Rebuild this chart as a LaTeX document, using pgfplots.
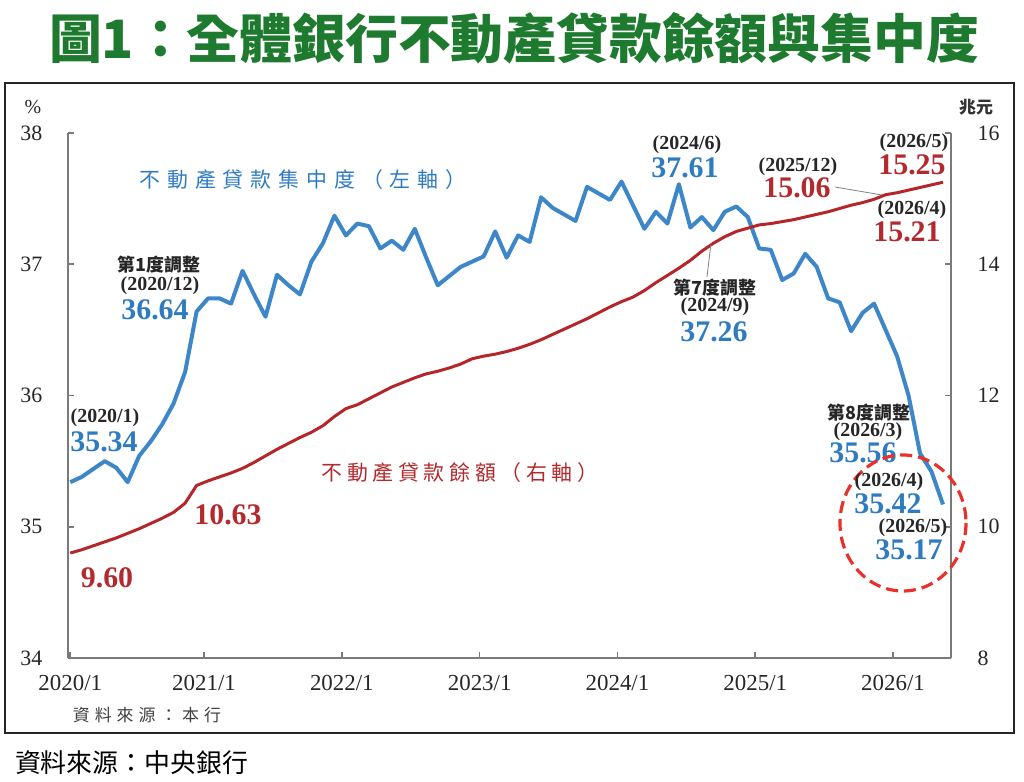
\documentclass[border=0pt]{standalone}
\usepackage{fontspec}
\setmainfont{Liberation Serif}
\newfontfamily\cjk{Noto Sans CJK TC}
\newfontfamily\cjkblue[LetterSpace=33]{Noto Sans CJK TC}
\newfontfamily\cjkred[LetterSpace=22]{Noto Sans CJK TC}
\newfontfamily\cjksrc[LetterSpace=29]{Noto Sans CJK TC}
\usepackage{pgfplots}
\pgfplotsset{compat=1.18}
\usepackage{pgfplotstable}

\definecolor{tgreen}{HTML}{1E7A2E}
\definecolor{lblue}{HTML}{3D87C9}
\definecolor{tblue}{HTML}{2F7BC0}
\definecolor{lred}{HTML}{B5262B}
\definecolor{tred}{HTML}{B22A2E}
\definecolor{cred}{HTML}{E8312A}
\definecolor{axgray}{HTML}{7A7A7A}

\pgfplotstableread{
i v
0 35.34
1 35.38
2 35.44
3 35.50
4 35.45
5 35.34
6 35.54
7 35.65
8 35.78
9 35.94
10 36.18
11 36.64
12 36.74
13 36.74
14 36.70
15 36.95
16 36.77
17 36.60
18 36.92
19 36.84
20 36.77
21 37.02
22 37.16
23 37.37
24 37.22
25 37.31
26 37.29
27 37.12
28 37.18
29 37.11
30 37.27
31 37.05
32 36.84
33 36.91
34 36.98
35 37.02
36 37.06
37 37.25
38 37.05
39 37.22
40 37.17
41 37.51
42 37.43
43 37.38
44 37.33
45 37.59
46 37.54
47 37.49
48 37.63
49 37.45
50 37.27
51 37.40
52 37.31
53 37.61
54 37.28
55 37.36
56 37.26
57 37.40
58 37.44
59 37.36
60 37.12
61 37.11
62 36.88
63 36.93
64 37.08
65 36.98
66 36.74
67 36.71
68 36.49
69 36.63
70 36.70
71 36.50
72 36.30
73 36.00
74 35.56
75 35.42
76 35.17
}\conc

\pgfplotstableread{
i v
0 9.60
1 9.65
2 9.71
3 9.77
4 9.83
5 9.90
6 9.97
7 10.05
8 10.13
9 10.22
10 10.36
11 10.63
12 10.70
13 10.76
14 10.82
15 10.89
16 10.98
17 11.08
18 11.18
19 11.27
20 11.36
21 11.44
22 11.54
23 11.68
24 11.80
25 11.86
26 11.95
27 12.04
28 12.13
29 12.20
30 12.27
31 12.33
32 12.37
33 12.42
34 12.48
35 12.56
36 12.60
37 12.63
38 12.67
39 12.72
40 12.78
41 12.85
42 12.93
43 13.01
44 13.09
45 13.17
46 13.26
47 13.35
48 13.43
49 13.50
50 13.60
51 13.72
52 13.83
53 13.94
54 14.06
55 14.20
56 14.32
57 14.42
58 14.50
59 14.55
60 14.60
61 14.62
62 14.65
63 14.68
64 14.72
65 14.76
66 14.80
67 14.85
68 14.90
69 14.94
70 14.99
71 15.06
72 15.09
73 15.13
74 15.17
75 15.21
76 15.25
}\bal

\pgfplotsset{
  common/.style={
    at={(34bp,-329bp)}, anchor=south west,
    scale only axis, width=441.5bp, height=262.5bp,
    xmin=-0.2, xmax=76.7,
    tick align=inside, major tick length=3bp,
    axis line style={-, draw=axgray, line width=0.8bp},
    every tick/.style={draw=axgray, line width=0.8bp},
    tick label style={font=\fontsize{11}{11}\selectfont, text=black!85},
    /pgf/number format/assume math mode=true,
    clip=false,
  }
}

\begin{document}
\begin{tikzpicture}
\begin{axis}[common,
  axis x line*=bottom, axis y line*=left,
  ymin=34, ymax=38, ytick={34,35,36,37,38},
  xtick={0,11.65,23.65,35.65,47.65,59.65,71.65},
  xticklabels={2020/1,2021/1,2022/1,2023/1,2024/1,2025/1,2026/1},
  xticklabel style={font=\fontsize{11.5}{11.5}\selectfont, yshift=-5bp},
  yticklabel style={xshift=-9.3bp},
]
\addplot[lblue, line width=2bp, line join=round, mark=none] table[x=i,y=v]{\conc};
\end{axis}
\begin{axis}[common,
  axis x line=none, axis y line*=right,
  ymin=8, ymax=16, ytick={8,10,12,14,16},
  yticklabel style={xshift=9.8bp},
]
\addplot[lred, line width=1.5bp, line join=round, mark=none] table[x=i,y=v]{\bal};
\end{axis}

\begin{scope}[x=0.5bp,y=-0.5bp]
\path[use as bounding box] (0,0) rectangle (1024,782);
\draw[line width=1bp, draw=black!85] (5,83) rectangle (1014,733);
\node[font=\cjk\bfseries\fontsize{26.5}{26.5}\selectfont, text=tgreen] at (514,38) {圖1：全體銀行不動產貸款餘額與集中度};

\node[font=\fontsize{10}{10}\selectfont, text=black!85] at (33,107) {\%};
\node[font=\cjk\bfseries\fontsize{8.5}{8.5}\selectfont, text=black!80] at (976,107) {兆元};

\node[font=\cjkblue\fontsize{10.5}{10.5}\selectfont, text=tblue] at (303,180) {不動產貸款集中度（左軸）};
\node[font=\cjkred\fontsize{10.5}{10.5}\selectfont, text=tred] at (460,473) {不動產貸款餘額（右軸）};

% 2020/1
\node[font=\bfseries\fontsize{10}{10}\selectfont, text=black!85] at (105,418) {(2020/1)};
\node[font=\bfseries\fontsize{15}{15}\selectfont, text=tblue] at (104,442) {35.34};
\node[font=\bfseries\fontsize{15}{15}\selectfont, text=tred] at (107,578) {9.60};
% 2020/12
\node[font=\cjk\bfseries\fontsize{9}{9}\selectfont, text=black!85] at (159,265) {第1度調整};
\node[font=\bfseries\fontsize{10}{10}\selectfont, text=black!85] at (160,286) {(2020/12)};
\node[font=\bfseries\fontsize{15}{15}\selectfont, text=tblue] at (155,310) {36.64};
\node[font=\bfseries\fontsize{15}{15}\selectfont, text=tred] at (228,515) {10.63};
% 2024/6
\node[font=\bfseries\fontsize{10}{10}\selectfont, text=black!85] at (687,145) {(2024/6)};
\node[font=\bfseries\fontsize{15}{15}\selectfont, text=tblue] at (685,168) {37.61};
% 2024/9
\draw[gray, line width=0.4bp] (707,277) -- (711,243);
\node[font=\cjk\bfseries\fontsize{9}{9}\selectfont, text=black!85] at (715,288) {第7度調整};
\node[font=\bfseries\fontsize{10}{10}\selectfont, text=black!85] at (715,307) {(2024/9)};
\node[font=\bfseries\fontsize{15}{15}\selectfont, text=tblue] at (714,332) {37.26};
% 2025/12
\draw[gray, line width=0.4bp] (835,187) -- (882,195);
\node[font=\bfseries\fontsize{10}{10}\selectfont, text=black!85] at (798,167) {(2025/12)};
\node[font=\bfseries\fontsize{15}{15}\selectfont, text=tred] at (797,188) {15.06};
% 2026/5 red
\node[font=\bfseries\fontsize{10}{10}\selectfont, text=black!85] at (914,143) {(2026/5)};
\node[font=\bfseries\fontsize{15}{15}\selectfont, text=tred] at (912,165) {15.25};
% 2026/4 red
\node[font=\bfseries\fontsize{10}{10}\selectfont, text=black!85] at (912,210) {(2026/4)};
\node[font=\bfseries\fontsize{15}{15}\selectfont, text=tred] at (907,232) {15.21};
% 2026/3 blue
\node[font=\cjk\bfseries\fontsize{9}{9}\selectfont, text=black!85] at (869,413) {第8度調整};
\node[font=\bfseries\fontsize{10}{10}\selectfont, text=black!85] at (868,432) {(2026/3)};
\node[font=\bfseries\fontsize{15}{15}\selectfont, text=tblue] at (863,453) {35.56};
% circle
\draw[cred, line width=1.6bp, dash pattern=on 6bp off 3bp] (903,523) ellipse [x radius=63, y radius=68];
% 2026/4 blue
\node[font=\bfseries\fontsize{10}{10}\selectfont, text=black!85] at (889,482) {(2026/4)};
\node[font=\bfseries\fontsize{15}{15}\selectfont, text=tblue] at (888,504) {35.42};
% 2026/5 blue
\node[font=\bfseries\fontsize{10}{10}\selectfont, text=black!85] at (913,528) {(2026/5)};
\node[font=\bfseries\fontsize{15}{15}\selectfont, text=tblue] at (909,550) {35.17};

\node[font=\cjksrc\fontsize{8.5}{8.5}\selectfont, text=black!75] at (147,715) {資料來源：本行};
\node[font=\cjk\fontsize{13}{13}\selectfont, text=black, anchor=west] at (8,763) {資料來源：中央銀行};
\end{scope}
\end{tikzpicture}
\end{document}
